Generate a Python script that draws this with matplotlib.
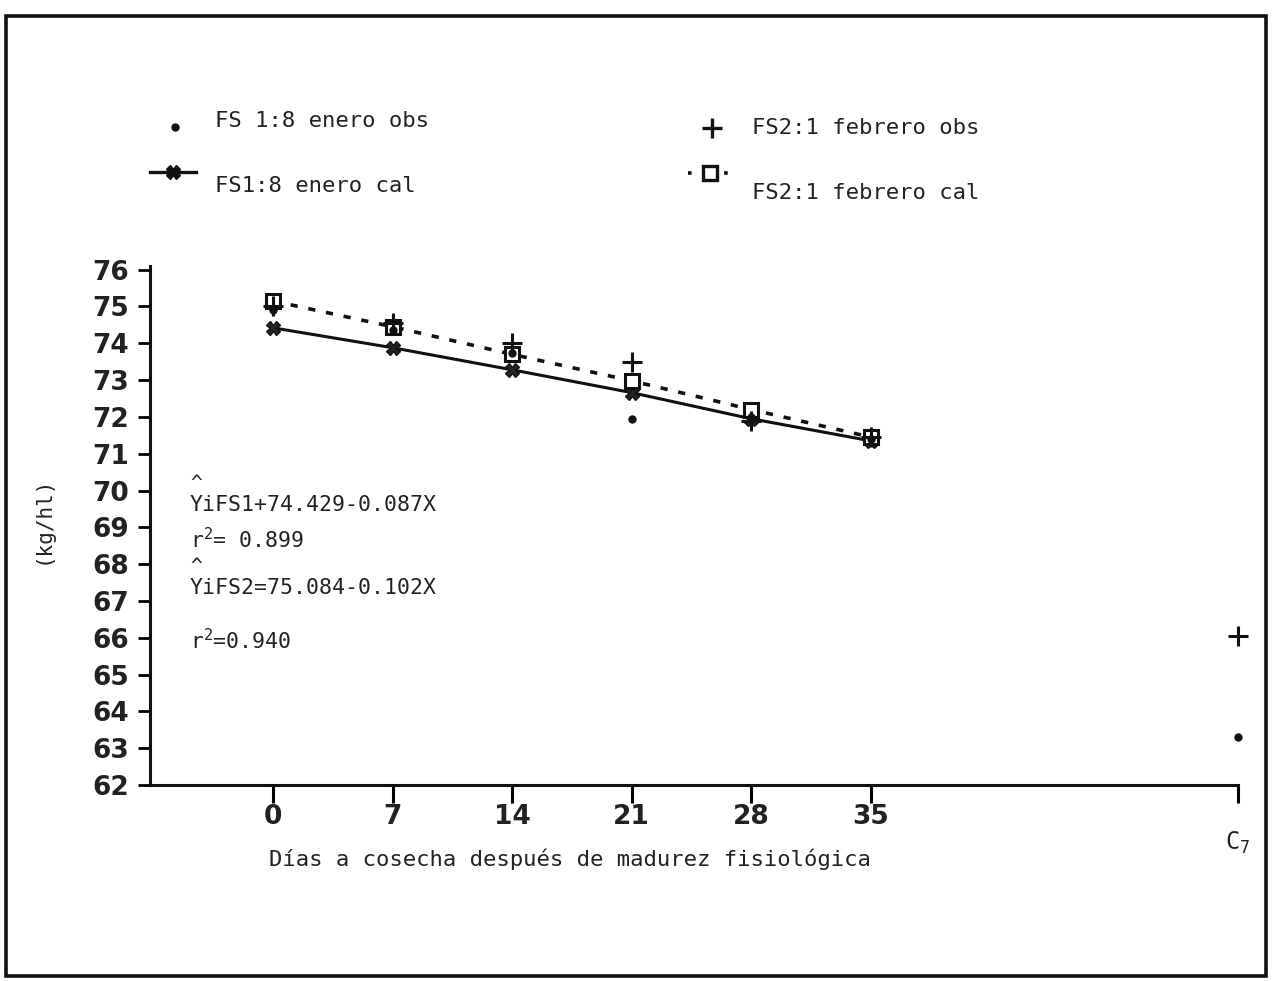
import matplotlib
matplotlib.use("Agg")
import matplotlib.pyplot as plt
from matplotlib.patches import Rectangle
from matplotlib.lines import Line2D

# ---------------- data ----------------
days = [0, 7, 14, 21, 28, 35]
day_labels = ["0", "7", "14", "21", "28", "35"]
control_label = r"C$_{\mathrm{7}}$"
control_x = 56.5

fs1_obs = [74.9, 74.35, 73.75, 71.95, 72.0, 71.4]
fs2_obs = [75.0, 74.55, 74.0, 73.5, 71.9, 71.45]
fs1_cal = [74.42, 73.88, 73.28, 72.66, 71.95, 71.35]
fs2_cal = [75.15, 74.45, 73.7, 72.98, 72.2, 71.45]

control_fs1_obs = 63.3
control_fs2_obs = 66.05

y_ticks = list(range(62, 77))

legend_labels = ["FS 1:8 enero obs", "FS1:8 enero cal",
                 "FS2:1 febrero obs", "FS2:1 febrero cal"]
eq_lines = [r"YiFS1+74.429-0.087X", r"r$^{\mathrm{2}}$= 0.899",
            r"YiFS2=75.084-0.102X", r"r$^{\mathrm{2}}$=0.940"]
xlabel = "Días a cosecha después de madurez fisiológica"
ylabel = "(kg/hl)"

# ---------------- style ----------------
plt.rcParams["mathtext.fontset"] = "custom"
plt.rcParams["mathtext.rm"] = "DejaVu Sans Mono"
plt.rcParams["mathtext.it"] = "DejaVu Sans Mono"
MONO = "DejaVu Sans Mono"

W, H = 1278, 981
fig = plt.figure(figsize=(W / 100, H / 100), dpi=100)
fig.patch.set_facecolor("white")

# frame around the figure
fig.add_artist(Rectangle((6 / W, 1 - 976 / H), 1260 / W, 960 / H,
                         transform=fig.transFigure, fill=False,
                         lw=2.6, ec="#111111"))

left, right = 150 / W, 1238 / W
bottom, top = 1 - 785 / H, 1 - 266 / H
ax = fig.add_axes([left, bottom, right - left, top - bottom])
ax.set_xlim(-7.2, control_x)
ax.set_ylim(62, 76.1)
for s in ["top", "right"]:
    ax.spines[s].set_visible(False)
for s in ["left", "bottom"]:
    ax.spines[s].set_linewidth(2.2)
    ax.spines[s].set_color("#111111")

ax.set_yticks(y_ticks)
ax.set_yticklabels([str(v) for v in y_ticks], fontsize=19,
                   fontweight="bold", family="DejaVu Sans", color="#222222")
ax.set_xticks(days + [control_x])
ax.set_xticklabels(day_labels + [""], fontsize=19, fontweight="bold",
                   family="DejaVu Sans", color="#222222")
ax.tick_params(axis="y", direction="out", length=9, width=2, pad=6)
ax.tick_params(axis="x", direction="out", length=13, width=2.2, pad=1)

# lines
ax.plot(days, fs1_cal, color="#111111", lw=2.2, marker="X", ms=10,
        mfc="#222222", mec="#111111", zorder=3)
ax.plot(days, fs2_cal, color="#111111", lw=2.6, ls=(0, (2, 3)),
        marker="s", ms=10, mfc="white", mec="#111111", mew=2.2, zorder=4)
ax.plot(days, fs2_obs, ls="none", marker="+", ms=15, mew=2.2,
        color="#111111", zorder=5)
ax.plot(days, fs1_obs, ls="none", marker="o", ms=5, color="#111111",
        zorder=5)
ax.plot([control_x], [control_fs2_obs], ls="none", marker="+", ms=15,
        mew=2.2, color="#111111", clip_on=False)
ax.plot([control_x], [control_fs1_obs], ls="none", marker="o", ms=5,
        color="#111111", clip_on=False)

ax.text(control_x, -0.112, control_label, transform=ax.get_xaxis_transform(),
        ha="center", va="center", fontsize=17, family=MONO, color="#222222")

# equations
eq_y = [69.61, 68.66, 67.36, 65.92]
for yv, t in zip(eq_y, eq_lines):
    ax.text(-4.86, yv, t, fontsize=15.5, family=MONO, va="center",
            ha="left", color="#222222")
for yv in (eq_y[0], eq_y[2]):
    ax.text(-4.5, yv + 0.58, "^", fontsize=14, family=MONO, va="center",
            ha="center", color="#222222")

ax.set_xlabel(xlabel, fontsize=16, family=MONO, color="#222222")
ax.xaxis.set_label_coords((570 / W - left) / (right - left), -0.122)
ax.set_ylabel(ylabel, fontsize=15, family=MONO, color="#222222")
ax.yaxis.set_label_coords((53 / W - left) / (right - left), 0.51)

# legend (drawn on overlay in pixel coordinates)
lg = fig.add_axes([0, 0, 1, 1], facecolor="none")
lg.set_xlim(0, W)
lg.set_ylim(H, 0)
lg.axis("off")
lg.add_line(Line2D([175], [127], ls="none", marker="o", ms=5, color="#111111"))
lg.add_line(Line2D([150, 196], [172, 172], lw=2.4, color="#111111"))
lg.add_line(Line2D([173], [172], ls="none", marker="X", ms=10,
                   color="#111111"))
lg.add_line(Line2D([712], [128], ls="none", marker="+", ms=14, mew=2.4,
                   color="#111111"))
lg.add_line(Line2D([688, 733], [173, 173], lw=2.6, ls=(0, (1, 4)),
                   color="#111111"))
lg.add_line(Line2D([710], [173], ls="none", marker="s", ms=10, mfc="white",
                   mec="#111111", mew=2.4))

leg_pos = [(215, 121), (215, 186), (752, 128), (752, 193)]
for (x, y), t in zip(leg_pos, legend_labels):
    lg.text(x, y, t, fontsize=16, family=MONO, va="center", ha="left",
            color="#222222")

fig.savefig("out.png", dpi=100, facecolor="white")
